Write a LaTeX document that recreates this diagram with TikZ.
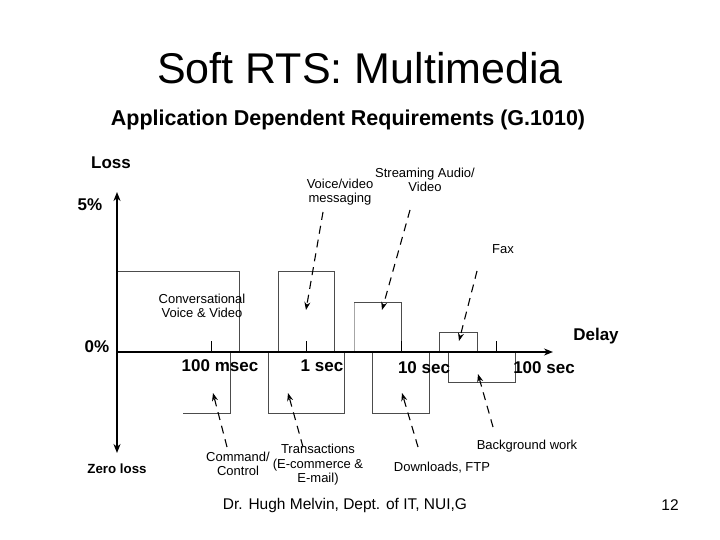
\documentclass[tikz,border=0pt]{standalone}
\usepackage{fontspec}
\setmainfont{Liberation Sans}
\usetikzlibrary{arrows.meta}
\begin{document}
\begin{tikzpicture}[x=1pt,y=-1pt,
  lbl/.style={font=\fontsize{13}{14.5}\selectfont,align=center,inner sep=0pt},
  blbl/.style={font=\fontsize{17}{19}\selectfont\bfseries,inner sep=0pt},
  slbl/.style={font=\fontsize{13.3}{15}\selectfont\bfseries,inner sep=0pt},
  box/.style={draw=black!70,line width=0.8pt},
  axis/.style={line width=2.2pt,-{Stealth[length=9pt,width=7pt]}},
  darr/.style={line width=1.1pt,dash pattern=on 8pt off 6pt,-{Stealth[length=8pt,width=6pt]}}]
\useasboundingbox[fill=white] (0,0) rectangle (720,540);
\node[font=\fontsize{43}{48}\selectfont] (title) at (360,68) {Soft RTS: Multimedia};
\node[font=\fontsize{21.5}{24}\selectfont\bfseries] (sub) at (348,120) {Application Dependent Requirements (G.1010)};
% boxes above
\draw[box] (117,271) -- (239,271) -- (239,352);
\draw[box] (278,352) -- (278,271) -- (334,271) -- (334,352);
\draw[draw=black!35,line width=0.8pt] (354,352) -- (354,302);
\draw[box] (354,302) -- (401,302) -- (401,352);
\draw[box] (439,352) -- (439,332) -- (477,332) -- (477,352);
% boxes below
\draw[box] (230,352) -- (230,413) -- (183,413);
\draw[box] (268,352) rectangle (344,413);
\draw[box] (372,352) rectangle (429,413);
\draw[box] (448,352) rectangle (515,382);
% ticks
\foreach \t in {211,306,401,496} \draw[line width=1pt] (\t,352) -- (\t,341);
% axes
\coordinate (o) at (117,352);
\coordinate (top) at (117,192);
\coordinate (bot) at (117,453);
\coordinate (right) at (553,352);
\draw[axis] (o) -- (top);
\draw[axis] (o) -- (bot);
\draw[axis] (o) -- (right);
% axis labels
\node[blbl] (loss) at (111,163) {Loss};
\node[blbl] (p5) at (90,205) {5\%};
\node[blbl] (p0) at (97,347) {0\%};
\node[slbl] (zl) at (117,469) {Zero loss};
\node[blbl] (delay) at (596,336) {Delay};
\node[blbl] (t1) at (220,366) {100 msec};
\node[blbl] (t2) at (322,366) {1 sec};
\node[blbl] (t3) at (424,368) {10 sec};
\node[blbl] (t4) at (544,368) {100 sec};
% labels
\node[lbl] (vv) at (340,192) {Voice/video\\messaging};
\node[lbl] (sa) at (425,180) {Streaming Audio/\\Video};
\node[lbl] (fax) at (503,249) {Fax};
\node[lbl] (conv) at (202,306) {Conversational\\Voice \& Video};
\node[lbl] (cmd) at (238,464) {Command/\\Control};
\node[lbl] (tr) at (318,465) {Transactions\\(E-commerce \&\\E-mail)};
\node[lbl] (dl) at (442,468) {Downloads, FTP};
\node[lbl] (bg) at (527,446) {Background work};
% dashed arrows
\coordinate (a1s) at (323,212); \coordinate (a1e) at (306,310);
\coordinate (a2s) at (410,210); \coordinate (a2e) at (382,310);
\coordinate (a3s) at (477,271); \coordinate (a3e) at (459,341);
\coordinate (a4s) at (227,447); \coordinate (a4e) at (213,393);
\coordinate (a5s) at (303,447); \coordinate (a5e) at (288,393);
\coordinate (a6s) at (418,447); \coordinate (a6e) at (402,393);
\coordinate (a7s) at (493,427); \coordinate (a7e) at (478,374);
\foreach \i in {1,...,7} \draw[darr] (a\i s) -- (a\i e);
% footer
\node[font=\fontsize{15.5}{17}\selectfont] (foot) at (345,505) {Dr. Hugh Melvin, Dept. of IT, NUI,G};
\node[font=\fontsize{15.5}{17}\selectfont] (pg) at (670,505) {12};
\end{tikzpicture}
\end{document}
